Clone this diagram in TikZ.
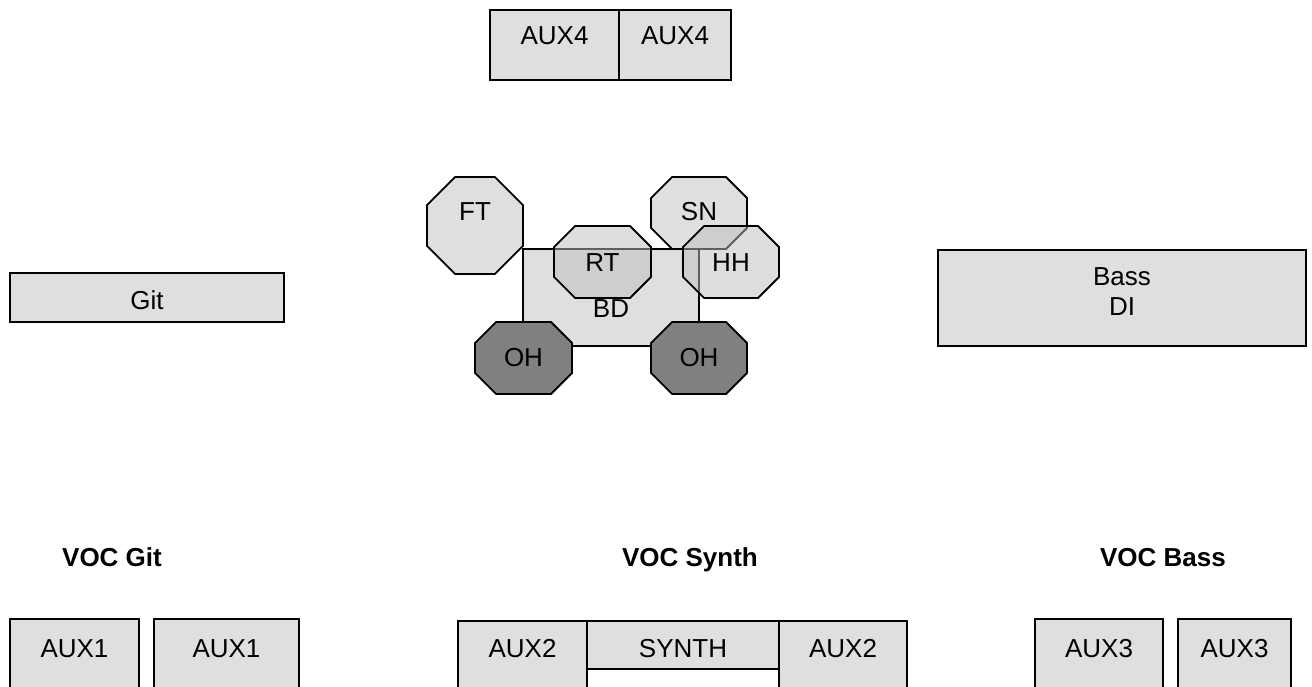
\documentclass[tikz,border=0pt]{standalone}
\usepackage{fontspec}
\setmainfont{Liberation Sans}
\definecolor{lightfill}{HTML}{DFDFDF}
\definecolor{darkfill}{HTML}{808080}
\newcommand\octo[5]{%
  \pgfmathsetmacro\oc{0.293*min(#4,#5)}%
  \pgfmathsetmacro\ow{#4/2}%
  \pgfmathsetmacro\oh{#5/2}%
  \draw[#1] (#2-\ow+\oc,#3-\oh) -- (#2+\ow-\oc,#3-\oh) -- (#2+\ow,#3-\oh+\oc)
    -- (#2+\ow,#3+\oh-\oc) -- (#2+\ow-\oc,#3+\oh) -- (#2-\ow+\oc,#3+\oh)
    -- (#2-\ow,#3+\oh-\oc) -- (#2-\ow,#3-\oh+\oc) -- cycle;}
\tikzset{
  shapeline/.style={draw=black, line width=1.9pt, line join=miter},
  boxshape/.style={shapeline, fill=lightfill},
  octlight/.style={shapeline, fill=lightfill},
  octglass/.style={shapeline, fill=gray!50, fill opacity=0.5},
  octdark/.style={shapeline, fill=darkfill},
  lbl/.style={font=\fontsize{26}{30}\selectfont, inner sep=0pt, anchor=base},
  lblc/.style={font=\fontsize{26}{30}\selectfont, inner sep=0pt, align=center},
  head/.style={font=\fontsize{26}{30}\selectfont\bfseries, inner sep=0pt, anchor=base}
}
\begin{document}
\begin{tikzpicture}[x=1pt,y=-1pt]
\clip (0,0) rectangle (1312,687);
\fill[white] (0,0) rectangle (1312,687);

% AUX4
\draw[boxshape] (490,10) rectangle (619,80);
\draw[boxshape] (619,10) rectangle (731,80);
\node[lbl] (aux4a) at (554.5,45) {AUX4};
\node[lbl] (aux4b) at (675,45) {AUX4};

% Git
\draw[boxshape] (10,273) rectangle (284,322);
\node[lbl] (git) at (147,309) {Git};

% Bass DI
\draw[boxshape] (938,250) rectangle (1306,346);
\node[lblc] (bassdi) at (1122,291.5) {Bass\\DI};

% Drum kit
\draw[boxshape] (523,249) rectangle (699,346);
\node[lbl] (bd) at (611,317) {BD};

\octo{octlight}{475}{225.5}{96}{97}
\node[lbl] (ft) at (475,221) {FT};
\octo{octlight}{699}{213}{96}{72}
\node[lbl] (sn) at (699,221) {SN};
\octo{octglass}{602.5}{262}{97}{72}
\node[lbl] (rt) at (602.5,271) {RT};
\octo{octglass}{731}{262}{96}{72}
\node[lbl] (hh) at (731,271) {HH};
\octo{octdark}{523.5}{358}{97}{72}
\node[lbl] (oh1) at (523.5,366.5) {OH};
\octo{octdark}{699}{358}{96}{72}
\node[lbl] (oh2) at (699,366.5) {OH};

% Headings
\node[head] (vocgit) at (112,566) {VOC Git};
\node[head] (vocsynth) at (690,566) {VOC Synth};
\node[head] (vocbass) at (1163,566) {VOC Bass};

% Bottom boxes
\draw[boxshape] (10,619) rectangle (139,720);
\draw[boxshape] (154,619) rectangle (299,720);
\node[lbl] (aux1a) at (74.5,657) {AUX1};
\node[lbl] (aux1b) at (226.5,657) {AUX1};

\draw[boxshape] (458,621) rectangle (587,720);
\draw[boxshape] (587,621) rectangle (779,669);
\draw[boxshape] (779,621) rectangle (907,720);
\node[lbl] (aux2a) at (522.5,657) {AUX2};
\node[lbl] (synth) at (683,657) {SYNTH};
\node[lbl] (aux2b) at (843,657) {AUX2};

\draw[boxshape] (1035,619) rectangle (1163,720);
\draw[boxshape] (1178,619) rectangle (1291,720);
\node[lbl] (aux3a) at (1099,657) {AUX3};
\node[lbl] (aux3b) at (1234.5,657) {AUX3};
\end{tikzpicture}
\end{document}
